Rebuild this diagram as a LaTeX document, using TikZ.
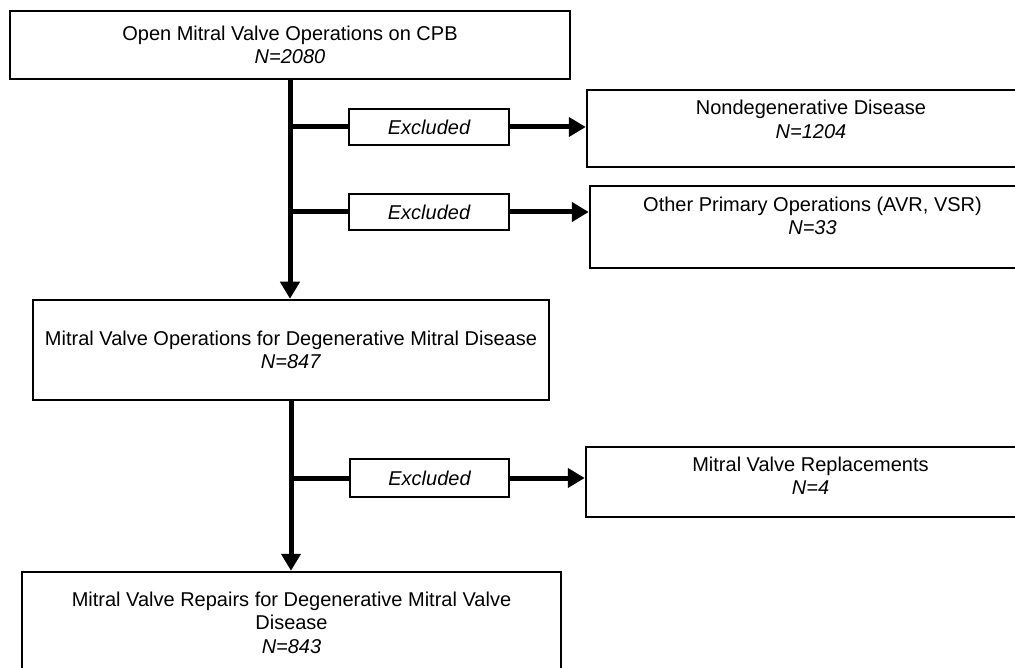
\documentclass[tikz,border=0pt]{standalone}
\usepackage{fontspec}
\setmainfont{Liberation Sans}
\usetikzlibrary{arrows.meta}
\tikzset{
  every node/.style={font=\fontsize{20}{23.5}\selectfont},
  box/.style={draw, line width=2.5pt, inner sep=0pt, align=center, fill=white},
  excl/.style={draw, line width=2.5pt, inner sep=0pt, align=center, fill=white, font=\fontsize{20}{23.5}\selectfont\itshape},
  txt/.style={inner sep=0pt, align=center},
  conn/.style={line width=5pt},
  arr/.style={-{Triangle[length=17pt,width=19pt]}}
}
\begin{document}
\begin{tikzpicture}[x=1pt,y=-1pt]
\clip (0,0) rectangle (1015,668);
\fill[white] (0,0) rectangle (1015,668);

% main boxes
\node[box, minimum width=560pt, minimum height=68pt] (b1) at (290,45)
  {Open Mitral Valve Operations on CPB\\\textit{N=2080}};
\node[box, minimum width=516pt, minimum height=100pt] (b3) at (291,350)
  {Mitral Valve Operations for Degenerative Mitral Disease\\\textit{N=847}};
\node[box, minimum width=539pt, minimum height=128pt,
  label={[txt, anchor=center, yshift=-52pt]north:{Mitral Valve Repairs for Degenerative Mitral Valve\\Disease\\\textit{N=843}}}] (b4) at (291.5,636) {};

% excluded boxes
\node[excl, minimum width=160pt, minimum height=36pt] (e1) at (429,127) {Excluded};
\node[excl, minimum width=160pt, minimum height=36pt] (e2) at (429,212) {Excluded};
\node[excl, minimum width=159pt, minimum height=38pt] (e3) at (429.5,478) {Excluded};

% right boxes
\node[box, minimum width=448pt, minimum height=77pt,
  label={[txt, anchor=center, yshift=-30.5pt]north:{Nondegenerative Disease\\\textit{N=1204}}}] (nd) at (811,128.5) {};
\node[box, minimum width=445pt, minimum height=82pt,
  label={[txt, anchor=center, yshift=-31pt]north:{Other Primary Operations (AVR, VSR)\\\textit{N=33}}}] (op) at (812.5,227) {};
\node[box, minimum width=449pt, minimum height=70pt,
  label={[txt, anchor=center, yshift=-30pt]north:{Mitral Valve Replacements\\\textit{N=4}}}] (mvr) at (810.5,482) {};

% connectors
\draw[conn, arr] (b1.south) -- (b1.south |- b3.north);
\draw[conn] (b1.south |- e1.west) -- (e1.west);
\draw[conn] (b1.south |- e2.west) -- (e2.west);
\draw[conn, arr] (e1.east) -- (e1.east -| nd.west);
\draw[conn, arr] (e2.east) -- (e2.east -| op.west);

\draw[conn, arr] (b3.south) -- (b3.south |- b4.north);
\draw[conn] (b3.south |- e3.west) -- (e3.west);
\draw[conn, arr] (e3.east) -- (e3.east -| mvr.west);
\end{tikzpicture}
\end{document}
